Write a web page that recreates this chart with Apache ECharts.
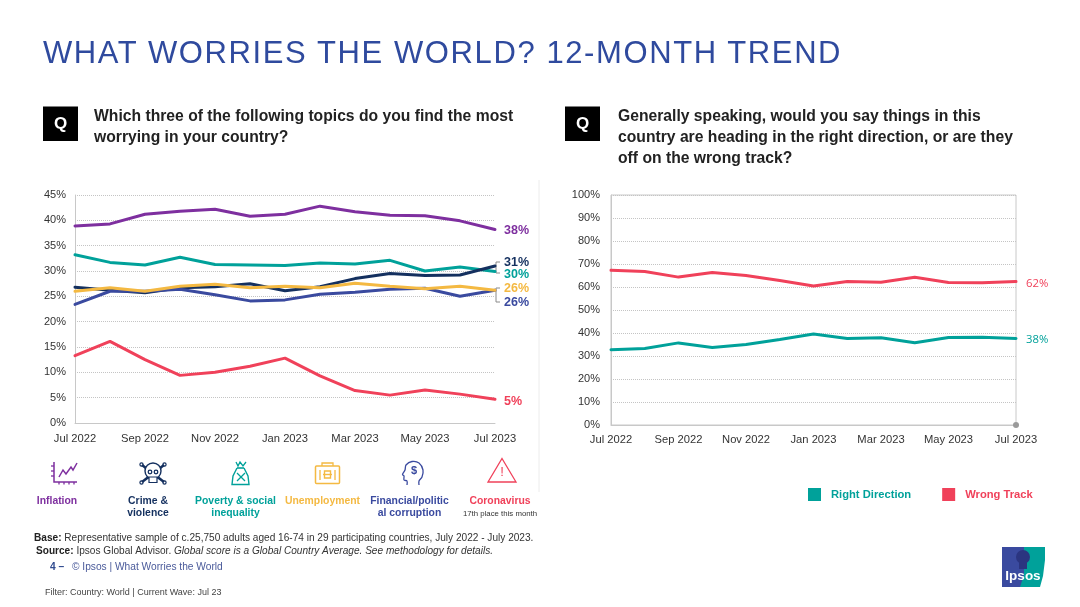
<![CDATA[<!DOCTYPE html>
<html>
<head>
<meta charset="utf-8">
<title>What Worries the World</title>
<script src="https://cdn.jsdelivr.net/npm/echarts@6/dist/echarts.min.js"></script>
<style>
    html, body { margin: 0; padding: 0; background: #fff; }
    #main { width: 1080px; height: 607px; }
    #title {
        position: absolute; left: 43px; top: 33px; line-height: 40px; white-space: nowrap;
        font-family: "Liberation Sans", Arial, sans-serif; font-size: 31px; letter-spacing: 1.6px; color: #2f4a9e;
    }
</style>
</head>
<body>
<div id="main"></div>
<div id="title">WHAT WORRIES THE WORLD? 12-MONTH TREND</div>
<script>
// data read off the picture
var months = ['Jul 2022','Aug 2022','Sep 2022','Oct 2022','Nov 2022','Dec 2022','Jan 2023','Feb 2023','Mar 2023','Apr 2023','May 2023','Jun 2023','Jul 2023'];
var inflation =    [38.9,39.3,41.2,41.8,42.2,40.8,41.2,42.8,41.7,41.0,40.9,39.9,38.2];
var poverty =      [33.2,31.7,31.2,32.7,31.3,31.2,31.1,31.6,31.4,32.1,30.0,30.8,29.9];
var crime =        [26.8,26.2,25.7,26.7,26.9,27.5,26.1,26.9,28.5,29.5,29.1,29.2,31.0];
var corruption =   [23.4,26.0,26.0,26.4,25.3,24.1,24.3,25.4,25.8,26.4,26.6,25.0,26.2];
var unemployment = [26.0,26.7,26.0,27.0,27.4,26.7,27.0,26.7,27.6,27.0,26.5,27.0,26.2];
var coronavirus =  [13.3,16.1,12.5,9.4,10.0,11.2,12.8,9.3,6.4,5.5,6.5,5.7,4.7];
var wrongTrack =     [67.3,66.7,64.3,66.3,65.0,62.8,60.4,62.4,62.1,64.2,62.0,61.8,62.4];
var rightDirection = [32.7,33.3,35.7,33.7,35.0,37.2,39.6,37.6,37.9,35.8,38.0,38.2,37.6];

var PURPLE = '#7e2f9f', NAVY = '#14305f', TEAL = '#00a19a', YELLOW = '#f4b942', BLUE = '#3a4a9f', RED = '#f0415a';
var FONT = '"Liberation Sans", Arial, sans-serif';

function txt(x, y, text, size, color, opts) {
    opts = opts || {};
    return {
        type: 'text', x: x, y: y, silent: true,
        style: {
            text: text, fontSize: size, fill: color, fontFamily: FONT,
            fontWeight: opts.weight || 'normal', fontStyle: opts.italic ? 'italic' : 'normal',
            align: opts.align || 'left', verticalAlign: 'middle', lineHeight: opts.lineHeight,
            rich: opts.rich
        }
    };
}
function stroke(color, w) { return { stroke: color, lineWidth: w || 1.3, fill: null }; }
function poly(points, color, w, smooth) { return { type: 'polyline', silent: true, shape: { points: points, smooth: smooth || 0 }, style: stroke(color, w) }; }
function ring(cx, cy, r, color, w) { return { type: 'circle', silent: true, shape: { cx: cx, cy: cy, r: r }, style: stroke(color, w) }; }
function box(x, y, w, h, color, lw, r) { return { type: 'rect', silent: true, shape: { x: x, y: y, width: w, height: h, r: r || 0 }, style: stroke(color, lw) }; }
function fillBox(x, y, w, h, color) { return { type: 'rect', silent: true, shape: { x: x, y: y, width: w, height: h }, style: { fill: color } }; }

var QSIZE = 15.7;
var graphics = [
    fillBox(43, 106.5, 35, 34.5, '#000'),
    txt(60.5, 124, 'Q', 17, '#fff', { weight: 'bold', align: 'center' }),
    txt(94, 117, 'Which three of the following topics do you find the most', QSIZE, '#222', { weight: 'bold' }),
    txt(94, 138, 'worrying in your country?', QSIZE, '#222', { weight: 'bold' }),

    fillBox(565, 106.5, 35, 34.5, '#000'),
    txt(582.5, 124, 'Q', 17, '#fff', { weight: 'bold', align: 'center' }),
    txt(618, 117, 'Generally speaking, would you say things in this', QSIZE, '#222', { weight: 'bold' }),
    txt(618, 138, 'country are heading in the right direction, or are they', QSIZE, '#222', { weight: 'bold' }),
    txt(618, 159, 'off on the wrong track?', QSIZE, '#222', { weight: 'bold' }),

    // divider between the two panels
    { type: 'line', silent: true, shape: { x1: 539, y1: 180, x2: 539, y2: 492 }, style: { stroke: '#ececec', lineWidth: 1 } },

    // brackets joining the close end labels
    poly([[500, 262], [496, 262], [496, 273], [500, 273]], '#8a8a8a', 1),
    poly([[500, 288], [496, 288], [496, 302], [500, 302]], '#8a8a8a', 1),

    // grey dot at the corner of the right plot
    { type: 'circle', silent: true, z: 10, shape: { cx: 1016, cy: 425, r: 3 }, style: { fill: '#9a9a9a' } },

    // inflation icon
    poly([[54, 462], [54, 482], [77, 482]], PURPLE, 1.5),
    poly([[54, 466], [51, 466]], PURPLE), poly([[54, 471], [51, 471]], PURPLE), poly([[54, 476], [51, 476]], PURPLE),
    poly([[59, 482], [59, 484.5]], PURPLE), poly([[64, 482], [64, 484.5]], PURPLE), poly([[69, 482], [69, 484.5]], PURPLE), poly([[74, 482], [74, 484.5]], PURPLE),
    poly([[59, 477], [63, 470], [66, 474], [71, 467], [73, 470], [77, 463]], PURPLE, 1.5),

    // skull icon
    poly([[142, 465], [164, 482]], NAVY, 2.6), poly([[164, 465], [142, 482]], NAVY, 2.6),
    ring(141.5, 464.5, 1.6, NAVY, 1.2), ring(164.5, 464.5, 1.6, NAVY, 1.2), ring(141.5, 482.5, 1.6, NAVY, 1.2), ring(164.5, 482.5, 1.6, NAVY, 1.2),
    { type: 'circle', silent: true, shape: { cx: 153, cy: 471, r: 8 }, style: { fill: '#fff', stroke: NAVY, lineWidth: 1.4 } },
    { type: 'rect', silent: true, shape: { x: 149, y: 477, width: 8, height: 5.5 }, style: { fill: '#fff', stroke: NAVY, lineWidth: 1.2 } },
    ring(150, 472, 1.8, NAVY), ring(156, 472, 1.8, NAVY),

    // money bag icon
    poly([[237, 468], [233, 476], [232, 484.5], [249, 484.5], [248, 476], [244, 468]], TEAL, 1.4),
    poly([[237, 468], [244, 468]], TEAL, 1.6),
    poly([[236, 462], [238, 466], [240, 462], [243, 466], [246, 462]], TEAL),
    poly([[237, 473], [245, 481]], TEAL), poly([[245, 473], [237, 481]], TEAL),

    // briefcase icon
    box(315.5, 466, 24, 17.5, YELLOW, 1.5, 1),
    poly([[322, 466], [322, 463], [333, 463], [333, 466]], YELLOW),
    poly([[320, 470], [320, 480]], YELLOW), poly([[335, 470], [335, 480]], YELLOW),
    box(324.5, 471, 6, 7, YELLOW, 1.4), poly([[323, 474.5], [332, 474.5]], YELLOW, 1.4),

    // head with dollar icon
    poly([[407, 485], [407, 481], [404, 480], [404, 476], [402.5, 474.5], [405, 470], [406, 465], [412, 461.5], [419, 463], [423, 470], [422, 477], [419, 481], [419, 485]], BLUE, 1.3, 0.3),
    txt(414, 471, '$', 11, BLUE, { weight: 'bold', align: 'center' }),

    // warning triangle icon
    { type: 'polygon', silent: true, shape: { points: [[502, 458.5], [516, 482], [488, 482]] }, style: stroke(RED, 1.3) },
    txt(502, 472, '!', 13, RED, { align: 'center' }),

    // topic captions
    txt(57, 501, 'Inflation', 10.4, PURPLE, { weight: 'bold', align: 'center' }),
    txt(148, 501, 'Crime &', 10.4, NAVY, { weight: 'bold', align: 'center' }),
    txt(148, 513.5, 'violence', 10.4, NAVY, { weight: 'bold', align: 'center' }),
    txt(235.5, 501, 'Poverty & social', 10.4, TEAL, { weight: 'bold', align: 'center' }),
    txt(235.5, 513.5, 'inequality', 10.4, TEAL, { weight: 'bold', align: 'center' }),
    txt(322.5, 501, 'Unemployment', 10.4, YELLOW, { weight: 'bold', align: 'center' }),
    txt(409.5, 501, 'Financial/politic', 10.4, BLUE, { weight: 'bold', align: 'center' }),
    txt(409.5, 513.5, 'al corruption', 10.4, BLUE, { weight: 'bold', align: 'center' }),
    txt(500, 501, 'Coronavirus', 10.4, RED, { weight: 'bold', align: 'center' }),
    txt(500, 513.5, '17th place this month', 7.8, '#333', { align: 'center' }),

    // footer
    txt(34, 538, '{b|Base:} Representative sample of c.25,750 adults aged 16-74 in 29 participating countries, July 2022 - July 2023.', 10.1, '#333', {
        rich: { b: { fontWeight: 'bold', fontSize: 10.1, fontFamily: FONT, fill: '#222' } }
    }),
    txt(36, 551, '{b|Source:} Ipsos Global Advisor. {i|Global score is a Global Country Average. See methodology for details.}', 10.1, '#333', {
        rich: {
            b: { fontWeight: 'bold', fontSize: 10.1, fontFamily: FONT, fill: '#222' },
            i: { fontStyle: 'italic', fontSize: 10.1, fontFamily: FONT, fill: '#333' }
        }
    }),
    txt(50, 567, '4 –', 10.2, '#2f4a8e', { weight: 'bold' }),
    txt(72, 567, '© Ipsos | What Worries the World', 10.2, '#4a5a9a'),
    txt(45, 592.5, 'Filter: Country: World | Current Wave: Jul 23', 9, '#444'),

    // logo
    fillBox(1002, 547, 30, 40, '#3a4a9f'),
    { type: 'polygon', silent: true, shape: { points: [[1024, 547], [1045, 547], [1045, 560], [1043, 576], [1040, 587], [1020, 587], [1024, 575]] }, style: { fill: '#00a19a' } },
    { type: 'circle', silent: true, shape: { cx: 1023, cy: 557, r: 7 }, style: { fill: '#2b3580' } },
    fillBox(1019, 562, 8, 7, '#2b3580'),
    txt(1023, 576.5, 'Ipsos', 13.5, '#fff', { weight: 'bold', align: 'center' })
];

function endLine(name, values, color, label, offsetY, gridIndex, labelStyle) {
    return {
        name: name, type: 'line', data: values,
        xAxisIndex: gridIndex, yAxisIndex: gridIndex,
        showSymbol: false, symbol: 'none', silent: true,
        lineStyle: { color: color, width: 3, cap: 'round' },
        itemStyle: { color: color },
        endLabel: Object.assign({
            show: true, formatter: label, color: color,
            offset: [labelStyle.dx, offsetY], distance: 0, align: 'left', verticalAlign: 'middle'
        }, labelStyle.text)
    };
}

var leftLabel = { dx: 9, text: { fontFamily: FONT, fontSize: 12.5, fontWeight: 'bold' } };
var rightLabel = { dx: 10, text: { fontFamily: '"Open Sans", sans-serif', fontSize: 11.3 } };

function xAxis(gridIndex, margin) {
    return {
        type: 'category', gridIndex: gridIndex, data: months, boundaryGap: false,
        axisTick: { show: false },
        axisLine: { lineStyle: { color: '#c8c8c8', width: 1 } },
        axisLabel: { interval: 1, color: '#333', fontFamily: FONT, fontSize: 11.2, margin: margin, hideOverlap: false }
    };
}
function yAxis(gridIndex, max, step, margin) {
    return {
        type: 'value', gridIndex: gridIndex, min: 0, max: max, interval: step,
        axisLine: { show: true, lineStyle: { color: '#c8c8c8', width: 1 } },
        axisTick: { show: false },
        axisLabel: { formatter: '{value}%', color: '#333', fontFamily: FONT, fontSize: 11, margin: margin },
        splitLine: { show: true, lineStyle: { color: '#c4c4c4', type: 'dotted', width: 1 } }
    };
}

var chart = echarts.init(document.getElementById('main'), null, { renderer: 'canvas' });
chart.setOption({
    animation: false,
    backgroundColor: '#fff',
    textStyle: { fontFamily: FONT },
    grid: [
        { left: 75, top: 195, width: 420, height: 228, containLabel: false },
        { left: 611, top: 195, width: 405, height: 230, containLabel: false, show: true, borderColor: '#c8c8c8', borderWidth: 1, backgroundColor: 'transparent' }
    ],
    xAxis: [xAxis(0, 10), xAxis(1, 9)],
    yAxis: [yAxis(0, 45, 5, 9), yAxis(1, 100, 10, 11)],
    legend: {
        data: ['Right Direction', 'Wrong Track'],
        left: 808, top: 488, padding: 0, icon: 'rect', itemWidth: 13, itemHeight: 13, itemGap: 31, selectedMode: false,
        textStyle: { color: 'inherit', fontFamily: FONT, fontSize: 11.2, fontWeight: 'bold', padding: [0, 0, 0, 5] }
    },
    graphic: { elements: graphics },
    series: [
        endLine('Inflation', inflation, PURPLE, '38%', 1, 0, leftLabel),
        endLine('Poverty & social inequality', poverty, TEAL, '30%', 3, 0, leftLabel),
        endLine('Crime & violence', crime, NAVY, '31%', -3, 0, leftLabel),
        endLine('Financial/political corruption', corruption, BLUE, '26%', 12, 0, leftLabel),
        endLine('Unemployment', unemployment, YELLOW, '26%', -2, 0, leftLabel),
        endLine('Coronavirus', coronavirus, RED, '5%', 2, 0, leftLabel),
        endLine('Right Direction', rightDirection, TEAL, '38%', 1, 1, rightLabel),
        endLine('Wrong Track', wrongTrack, RED, '62%', 2, 1, rightLabel)
    ]
});
</script>
</body>
</html>
]]>
